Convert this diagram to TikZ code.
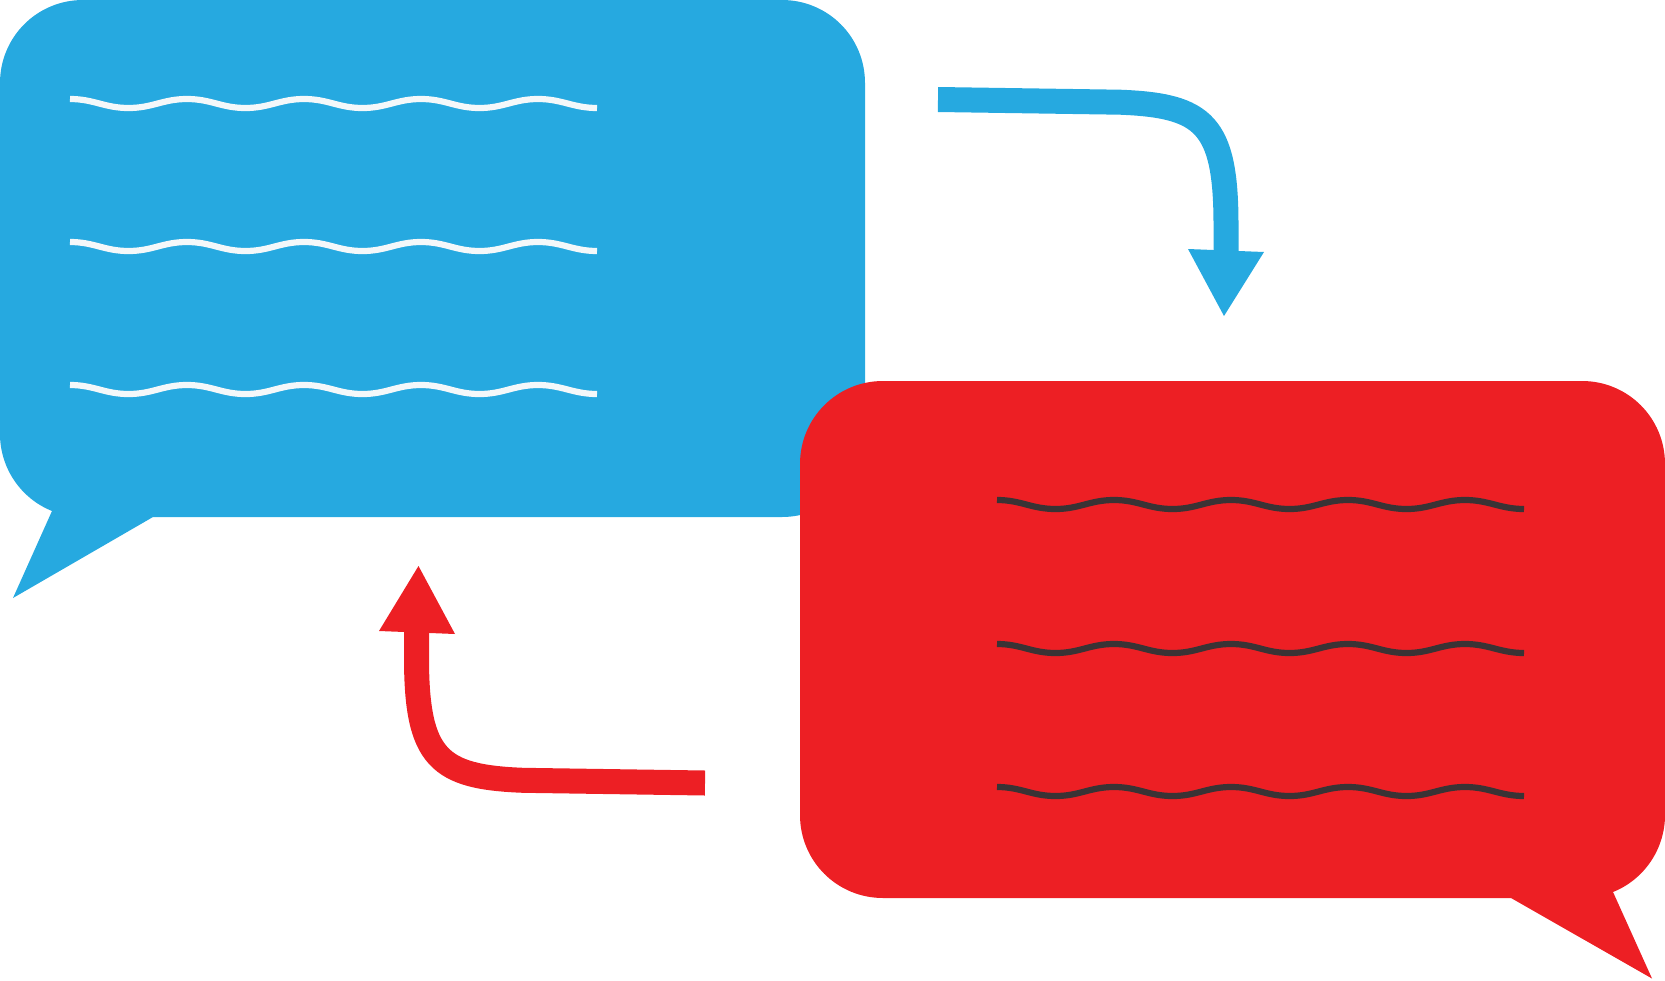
\documentclass[tikz,border=0pt]{standalone}
\definecolor{bubbleblue}{HTML}{26A9E0}
\definecolor{bubblered}{HTML}{ED1F24}
\definecolor{waveDark}{HTML}{3A3335}
\definecolor{waveLight}{HTML}{F4F8FA}
\tikzset{
  x=1pt,y=-1pt,
  waveline/.style={line width=6.2pt,line cap=butt},
  shaft/.style={line width=25pt,line cap=butt,line join=round},
  pics/wave/.style={code={
    \draw[waveline,#1] (0,0)
      .. controls (24,0) and (34.5,9) .. (58.5,9)
      .. controls (82.5,9) and (93,0) .. (117,0)
      .. controls (141,0) and (151.5,9) .. (175.5,9)
      .. controls (199.5,9) and (210,0) .. (234,0)
      .. controls (258,0) and (268.5,9) .. (292.5,9)
      .. controls (316.5,9) and (327,0) .. (351,0)
      .. controls (375,0) and (385.5,9) .. (409.5,9)
      .. controls (433.5,9) and (444,0) .. (468,0)
      .. controls (492,0) and (503,9) .. (527,9);
  }}
}
\begin{document}
\begin{tikzpicture}
\useasboundingbox (0,0) rectangle (1665,980);
% blue bubble
\fill[bubbleblue] (83,0) -- (782,0)
  .. controls (828,0) and (865,37) .. (865,83)
  -- (865,434)
  .. controls (865,480) and (828,517) .. (782,517)
  -- (153,517) -- (13,598) -- (52,511)
  .. controls (20.6,498.4) and (0,467.8) .. (0,434)
  -- (0,83)
  .. controls (0,37) and (37,0) .. (83,0) -- cycle;
\foreach \yy in {99,242,385} \pic at (70,\yy) {wave=waveLight};
% red bubble
\fill[bubblered] (1582,381) -- (883,381)
  .. controls (837,381) and (800,418) .. (800,464)
  -- (800,815)
  .. controls (800,861) and (837,898) .. (883,898)
  -- (1511,898) -- (1652,978.5) -- (1613,892)
  .. controls (1644.4,879.4) and (1665,848.8) .. (1665,815)
  -- (1665,464)
  .. controls (1665,418) and (1628,381) .. (1582,381) -- cycle;
\foreach \yy in {500,644,787} \pic at (997,\yy) {wave=waveDark};
% blue arrow
\coordinate (bs) at (938,99.5);
\coordinate (bh) at (1226,255);
\draw[shaft,bubbleblue] (bs) -- (1120,102.2)
  .. controls (1204,105.5) and (1226,124) .. (1226,225) -- (bh);
\fill[bubbleblue] (1188,249) -- (1264,252) -- (1224,316) -- cycle;
% red arrow
\coordinate (rs) at (705,783);
\coordinate (rh) at (416.5,627);
\draw[shaft,bubblered] (rs) -- (523,780.3)
  .. controls (439,777) and (416.5,758.5) .. (416.5,657.5) -- (rh);
\fill[bubblered] (455,634) -- (379,631) -- (418.5,566) -- cycle;
\end{tikzpicture}
\end{document}
